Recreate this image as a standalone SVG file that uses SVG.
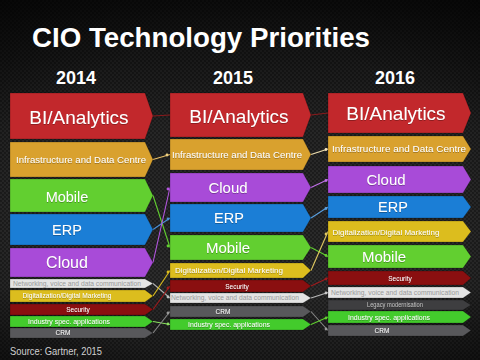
<svg xmlns="http://www.w3.org/2000/svg" width="480" height="360" viewBox="0 0 480 360">
<defs>
<linearGradient id="bg" x1="0" y1="0" x2="0" y2="1">
<stop offset="0" stop-color="#0e0e0e"/>
<stop offset="0.35" stop-color="#262626"/>
<stop offset="0.8" stop-color="#2c2c2c"/>
<stop offset="1" stop-color="#1c1c1c"/>
</linearGradient>
<radialGradient id="vig" cx="0.5" cy="0.55" r="0.75">
<stop offset="0.6" stop-color="#000" stop-opacity="0"/>
<stop offset="1" stop-color="#000" stop-opacity="0.5"/>
</radialGradient>
<pattern id="hex" width="4" height="4" patternUnits="userSpaceOnUse">
<circle cx="1" cy="1" r="0.9" fill="#000" fill-opacity="0.45"/>
<circle cx="3" cy="3" r="0.9" fill="#000" fill-opacity="0.45"/>
</pattern>
<filter id="ts" x="-10%" y="-30%" width="120%" height="160%">
<feDropShadow dx="0" dy="0.6" stdDeviation="0.6" flood-color="#000" flood-opacity="0.45"/>
</filter>
</defs>
<style>
text{font-family:"Liberation Sans",Arial,Helvetica,sans-serif;}
.title{font-size:27.5px;font-weight:bold;fill:#fff;}
.year{font-size:18px;font-weight:bold;fill:#fff;text-anchor:middle;}
.lb{fill:#fff;text-anchor:middle;filter:url(#ts);}
.big{font-size:19px;}
.mid{font-size:14.5px;}
.inf{font-size:9px;}
.sm{font-size:6.5px;}
.dk{fill:#9a9a9a;filter:none;}
.src{font-size:11px;fill:#d0d0d0;}
.box{stroke:#000;stroke-opacity:0.35;stroke-width:0.6;}
.red{fill:#c2282c;}
.ora{fill:#d9a12e;}
.grn{fill:#62cf30;}
.blu{fill:#1b7ed6;}
.pur{fill:#a84bd8;}
.wht{fill:#e4e4e4;}
.yel{fill:#dcbd1e;}
.sec{fill:#8a0f10;}
.ind{fill:#43cb2c;}
.crm{fill:#58585b;}
.leg{fill:#3e3e40;}
#connectors line{stroke-width:1.1;fill:none;}
#connectors circle{r:1.4;}
</style>
<rect width="480" height="360" fill="url(#bg)"/>
<rect width="480" height="360" fill="url(#hex)"/>
<rect width="480" height="360" fill="url(#vig)"/>
<text class="title" x="32" y="47" textLength="338" lengthAdjust="spacingAndGlyphs">CIO Technology Priorities</text>
<text class="year" x="76" y="84">2014</text>
<text class="year" x="233" y="84">2015</text>
<text class="year" x="395" y="84">2016</text>

<g id="connectors">
<line x1="153" y1="116" x2="170" y2="115" stroke="#8a1a1c"/>
<line x1="153" y1="159.5" x2="170" y2="154.5" stroke="#e8c06a"/><circle cx="167" cy="155" fill="#f0d080"/>
<line x1="153" y1="195.5" x2="170" y2="247.5" stroke="#62cf30"/><circle cx="168" cy="246" fill="#62cf30"/>
<line x1="153" y1="229.5" x2="170" y2="218" stroke="#4a90d6"/><circle cx="168" cy="219" fill="#4a90d6"/>
<line x1="153" y1="262.5" x2="170" y2="187.5" stroke="#b456e0"/><circle cx="168" cy="189" fill="#b456e0"/>
<line x1="153" y1="283.5" x2="170" y2="298" stroke="#b0b0b0"/><circle cx="168" cy="297" fill="#c0c0c0"/>
<line x1="153" y1="296" x2="170" y2="270.5" stroke="#dcbd1e"/><circle cx="168" cy="272" fill="#dcbd1e"/>
<line x1="153" y1="309.5" x2="170" y2="286" stroke="#a01a1c"/><circle cx="168" cy="288" fill="#a01a1c"/>
<line x1="153" y1="321.5" x2="170" y2="324.5" stroke="#8ae060"/><circle cx="168" cy="324" fill="#8ae060"/>
<line x1="153" y1="333" x2="170" y2="311.5" stroke="#888"/><circle cx="168" cy="313" fill="#999"/>
<line x1="311" y1="115" x2="328" y2="113" stroke="#8a1a1c"/>
<line x1="311" y1="154.5" x2="328" y2="149" stroke="#f0e0b0"/><circle cx="326" cy="149.5" fill="#f5e6c0"/>
<line x1="311" y1="187.5" x2="328" y2="179.5" stroke="#c070e8"/><circle cx="326" cy="180.5" fill="#c070e8"/>
<line x1="311" y1="218" x2="328" y2="207" stroke="#5aa0e0"/><circle cx="326" cy="208.5" fill="#5aa0e0"/>
<line x1="311" y1="247.5" x2="328" y2="256.5" stroke="#62cf30"/><circle cx="326" cy="255.5" fill="#62cf30"/>
<line x1="311" y1="270.5" x2="328" y2="231.5" stroke="#e0c860"/><circle cx="326" cy="234" fill="#e0c860"/>
<line x1="311" y1="286" x2="328" y2="278" stroke="#a01a1c"/><circle cx="326" cy="279" fill="#a01a1c"/>
<line x1="311" y1="298" x2="328" y2="292.5" stroke="#b8b8b8"/><circle cx="326" cy="293" fill="#c8c8c8"/>
<line x1="311" y1="311.5" x2="328" y2="330.5" stroke="#888"/><circle cx="326" cy="329" fill="#999"/>
<line x1="311" y1="324.5" x2="328" y2="317" stroke="#62cf30"/><circle cx="326" cy="318" fill="#62cf30"/>
</g>

<!-- 2014 -->
<g id="n2014-bi"><path class="box red" d="M10 93H145L153 116L145 139H10Z"/><text class="lb big" x="79" y="124">BI/Analytics</text></g>
<g id="n2014-infra"><path class="box ora" d="M10 142H145L153 159.5L145 177H10Z"/><text class="lb inf" x="81" y="162.5" textLength="130" lengthAdjust="spacingAndGlyphs">Infrastructure and Data Centre</text></g>
<g id="n2014-mobile"><path class="box grn" d="M10 179H145L153 195.5L145 212H10Z"/><text class="lb mid" x="67" y="201.5">Mobile</text></g>
<g id="n2014-erp"><path class="box blu" d="M10 214H145L153 229.5L145 245H10Z"/><text class="lb mid" x="67" y="235">ERP</text></g>
<g id="n2014-cloud"><path class="box pur" d="M10 248H145L153 262.5L145 277H10Z"/><text class="lb" style="font-size:16px" x="67" y="268">Cloud</text></g>
<g id="n2014-net"><path class="box wht" d="M10 279H145L153 283.5L145 288H10Z"/><text class="lb sm dk" x="77" y="285.8" textLength="128" lengthAdjust="spacingAndGlyphs">Networking, voice and data communication</text></g>
<g id="n2014-dig"><path class="box yel" d="M10 290H145L153 296L145 302H10Z"/><text class="lb sm" x="67" y="298.4" textLength="89" lengthAdjust="spacingAndGlyphs">Digitalization/Digital Marketing</text></g>
<g id="n2014-sec"><path class="box sec" d="M10 304H145L153 309.5L145 315H10Z"/><text class="lb sm" x="78" y="312">Security</text></g>
<g id="n2014-ind"><path class="box ind" d="M10 316H145L153 321.5L145 327H10Z"/><text class="lb sm" x="69" y="324" textLength="82" lengthAdjust="spacingAndGlyphs">Industry spec. applications</text></g>
<g id="n2014-crm"><path class="box crm" d="M10 328H145L153 333L145 338H10Z"/><text class="lb sm" x="63" y="335.4">CRM</text></g>

<!-- 2015 -->
<g id="n2015-bi"><path class="box red" d="M170 93H303L311 115L303 137H170Z"/><text class="lb big" x="239" y="122.5">BI/Analytics</text></g>
<g id="n2015-infra"><path class="box ora" d="M170 139H303L311 154.5L303 170H170Z"/><text class="lb inf" x="237" y="157.5" textLength="130" lengthAdjust="spacingAndGlyphs">Infrastructure and Data Centre</text></g>
<g id="n2015-cloud"><path class="box pur" d="M170 173H303L311 187.5L303 202H170Z"/><text class="lb" style="font-size:15px" x="228" y="193">Cloud</text></g>
<g id="n2015-erp"><path class="box blu" d="M170 204H303L311 218L303 232H170Z"/><text class="lb mid" x="229" y="223">ERP</text></g>
<g id="n2015-mobile"><path class="box grn" d="M170 235H303L311 247.5L303 260H170Z"/><text class="lb" style="font-size:15px" x="228" y="253">Mobile</text></g>
<g id="n2015-dig"><path class="box yel" d="M170 263H303L311 270.5L303 278H170Z"/><text class="lb" style="font-size:7px" x="229" y="273" textLength="108" lengthAdjust="spacingAndGlyphs">Digitalization/Digital Marketing</text></g>
<g id="n2015-sec"><path class="box sec" d="M170 280H303L311 286L303 292H170Z"/><text class="lb sm" x="237" y="288.5">Security</text></g>
<g id="n2015-net"><path class="box wht" d="M170 293H303L311 298L303 303H170Z"/><text class="lb sm dk" x="235" y="300.3" textLength="128" lengthAdjust="spacingAndGlyphs">Networking, voice and data communication</text></g>
<g id="n2015-crm"><path class="box crm" d="M170 306H303L311 311.5L303 317H170Z"/><text class="lb sm" x="223" y="314">CRM</text></g>
<g id="n2015-ind"><path class="box ind" d="M170 319H303L311 324.5L303 330H170Z"/><text class="lb sm" x="229" y="327" textLength="82" lengthAdjust="spacingAndGlyphs">Industry spec. applications</text></g>

<!-- 2016 -->
<g id="n2016-bi"><path class="box red" d="M328 93H463L471 113L463 133H328Z"/><text class="lb big" x="396" y="120">BI/Analytics</text></g>
<g id="n2016-infra"><path class="box ora" d="M328 136H463L471 149L463 162H328Z"/><text class="lb inf" x="399" y="152" textLength="134" lengthAdjust="spacingAndGlyphs">Infrastructure and Data Centre</text></g>
<g id="n2016-cloud"><path class="box pur" d="M328 166H463L471 179.5L463 193H328Z"/><text class="lb" style="font-size:15px" x="386" y="185">Cloud</text></g>
<g id="n2016-erp"><path class="box blu" d="M328 196H463L471 207L463 218H328Z"/><text class="lb mid" x="393" y="212">ERP</text></g>
<g id="n2016-dig"><path class="box yel" d="M328 221H463L471 231.5L463 242H328Z"/><text class="lb" style="font-size:7.5px" x="386" y="234.5" textLength="107" lengthAdjust="spacingAndGlyphs">Digitalization/Digital Marketing</text></g>
<g id="n2016-mobile"><path class="box grn" d="M328 245H463L471 256.5L463 268H328Z"/><text class="lb" style="font-size:15px" x="384" y="261.5">Mobile</text></g>
<g id="n2016-sec"><path class="box sec" d="M328 271H463L471 278L463 285H328Z"/><text class="lb sm" x="400" y="280.5">Security</text></g>
<g id="n2016-net"><path class="box wht" d="M328 287H463L471 292.5L463 298H328Z"/><text class="lb sm dk" x="395" y="294.8" textLength="128" lengthAdjust="spacingAndGlyphs">Networking, voice and data communication</text></g>
<g id="n2016-legacy"><path class="box leg" d="M328 300H463L471 305L463 310H328Z"/><text class="lb sm" style="fill:#bdbdbd" x="395" y="307.4" textLength="56" lengthAdjust="spacingAndGlyphs">Legacy modernisation</text></g>
<g id="n2016-ind"><path class="box ind" d="M328 311H463L471 317L463 323H328Z"/><text class="lb" style="font-size:7.5px" x="389" y="319.8" textLength="82" lengthAdjust="spacingAndGlyphs">Industry spec. applications</text></g>
<g id="n2016-crm"><path class="box crm" d="M328 325H463L471 330.5L463 336H328Z"/><text class="lb sm" x="382" y="333">CRM</text></g>

<text class="src" x="10" y="355" textLength="92" lengthAdjust="spacingAndGlyphs">Source: Gartner, 2015</text>
</svg>
